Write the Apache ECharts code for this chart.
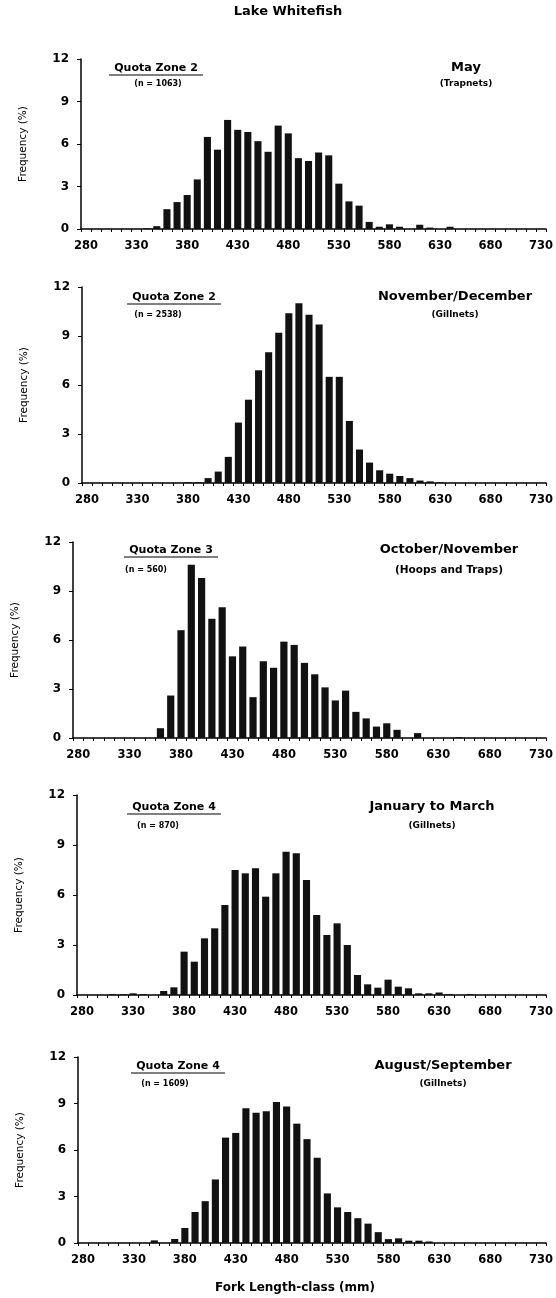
<!DOCTYPE html>
<html>
<head>
<meta charset="utf-8">
<title>Lake Whitefish</title>
<script src="https://cdn.jsdelivr.net/npm/echarts@6/dist/echarts.min.js"></script>
<style>
  html, body { margin: 0; padding: 0; background: #ffffff; }
  #chart { width: 556px; height: 1298px; }
</style>
</head>
<body>
<div id="chart"></div>
<script>
// Fork length classes (mm), 10 mm bins
const lengthClasses = [280, 290, 300, 310, 320, 330, 340, 350, 360, 370,
  380, 390, 400, 410, 420, 430, 440, 450, 460, 470,
  480, 490, 500, 510, 520, 530, 540, 550, 560, 570,
  580, 590, 600, 610, 620, 630, 640, 650, 660, 670,
  680, 690, 700, 710, 720, 730];

// Frequency (%) per length class
const zone2May = [0, 0, 0, 0, 0, 0, 0.05, 0.2, 1.4, 1.9,
  2.4, 3.5, 6.5, 5.6, 7.7, 7.0, 6.85, 6.2, 5.45, 7.3,
  6.75, 5.0, 4.8, 5.4, 5.2, 3.2, 1.95, 1.65, 0.5, 0.16,
  0.33, 0.16, 0, 0.3, 0.1, 0, 0.16, 0, 0, 0,
  0, 0, 0, 0, 0, 0];
const zone2NovDec = [0, 0, 0, 0, 0, 0, 0, 0, 0, 0,
  0.05, 0.05, 0.3, 0.7, 1.6, 3.7, 5.1, 6.9, 8.0, 9.2,
  10.4, 11.0, 10.3, 9.7, 6.5, 6.5, 3.8, 2.05, 1.25, 0.78,
  0.57, 0.43, 0.3, 0.15, 0.1, 0.05, 0, 0, 0, 0,
  0, 0, 0, 0, 0, 0];
const zone3OctNov = [0, 0, 0, 0, 0, 0, 0, 0, 0.6, 2.6,
  6.6, 10.6, 9.8, 7.3, 8.0, 5.0, 5.6, 2.5, 4.7, 4.3,
  5.9, 5.7, 4.6, 3.9, 3.1, 2.3, 2.9, 1.6, 1.2, 0.7,
  0.9, 0.5, 0, 0.3, 0, 0, 0, 0.05, 0, 0,
  0, 0, 0, 0, 0, 0];
const zone4JanMar = [0, 0, 0, 0.05, 0.05, 0.1, 0.05, 0, 0.24, 0.46,
  2.6, 2.0, 3.4, 4.0, 5.4, 7.5, 7.3, 7.6, 5.9, 7.3,
  8.6, 8.5, 6.9, 4.8, 3.6, 4.3, 3.0, 1.2, 0.64, 0.44,
  0.92, 0.5, 0.4, 0.1, 0.1, 0.15, 0.05, 0, 0.05, 0,
  0, 0, 0, 0, 0, 0];
const zone4AugSep = [0, 0, 0, 0, 0, 0, 0, 0.17, 0, 0.26,
  0.97, 2.0, 2.7, 4.1, 6.8, 7.1, 8.7, 8.4, 8.5, 9.1,
  8.8, 7.7, 6.7, 5.5, 3.2, 2.3, 2.0, 1.6, 1.25, 0.7,
  0.25, 0.3, 0.15, 0.15, 0.1, 0, 0, 0, 0, 0,
  0, 0, 0, 0, 0, 0];

const yTicks = [0, 3, 6, 9, 12];

// Panel captions
const zoneLabels = ['Quota Zone 2', 'Quota Zone 2', 'Quota Zone 3', 'Quota Zone 4', 'Quota Zone 4'];
const sampleSizes = ['(n = 1063)', '(n = 2538)', '(n = 560)', '(n = 870)', '(n = 1609)'];
const periods = ['May', 'November/December', 'October/November', 'January to March', 'August/September'];
const gears = ['(Trapnets)', '(Gillnets)', '(Hoops and Traps)', '(Gillnets)', '(Gillnets)'];

const panelSeries = [zone2May, zone2NovDec, zone3OctNov, zone4JanMar, zone4AugSep];

// Panel frames: plot area in pixels
const frames = [
  { left: 81, top: 59, height: 170 },
  { left: 82, top: 287, height: 196 },
  { left: 73, top: 542, height: 196 },
  { left: 77, top: 795, height: 200 },
  { left: 78, top: 1057, height: 186 }
];
const plotRight = 553;

// Caption anchors per panel (zone label, sample size, period, gear)
const captionPos = [
  { zx: 156, zy: 68, nx: 158, ny: 84, px: 466, py: 68, gy: 84, gs: 9 },
  { zx: 174, zy: 297, nx: 158, ny: 315, px: 455, py: 297, gy: 315, gs: 9 },
  { zx: 171, zy: 550, nx: 146, ny: 570, px: 449, py: 550, gy: 570, gs: 10.5 },
  { zx: 174, zy: 807, nx: 158, ny: 826, px: 432, py: 807, gy: 826, gs: 9 },
  { zx: 178, zy: 1066, nx: 165, ny: 1084, px: 443, py: 1066, gy: 1084, gs: 9 }
];

const FONT = '"DejaVu Sans", Verdana, sans-serif';

const grids = [], xAxes = [], yAxes = [], series = [], graphics = [];

frames.forEach(function (f, i) {
  grids.push({ left: f.left, top: f.top, width: plotRight - f.left, height: f.height });
  xAxes.push({
    type: 'category',
    gridIndex: i,
    data: lengthClasses,
    boundaryGap: true,
    axisLine: { lineStyle: { color: '#000', width: 1.5 } },
    axisTick: { show: true, interval: 0, length: 3, lineStyle: { color: '#000', width: 1 } },
    axisLabel: {
      interval: 4, color: '#000', fontFamily: FONT, fontWeight: 'bold', fontSize: 11.5, margin: 11
    },
    splitLine: { show: false }
  });
  yAxes.push({
    type: 'value',
    gridIndex: i,
    min: yTicks[0],
    max: yTicks[yTicks.length - 1],
    interval: 3,
    name: 'Frequency (%)',
    nameLocation: 'middle',
    nameGap: 52,
    nameRotate: 90,
    nameTextStyle: { color: '#000', fontFamily: FONT, fontSize: 10.5 },
    axisLine: { show: true, lineStyle: { color: '#000', width: 1.5 } },
    axisTick: { show: true, length: 4, lineStyle: { color: '#000', width: 1 } },
    axisLabel: { color: '#000', fontFamily: FONT, fontWeight: 'bold', fontSize: 12, margin: 12 },
    splitLine: { show: false }
  });
  series.push({
    type: 'bar',
    xAxisIndex: i,
    yAxisIndex: i,
    data: panelSeries[i],
    barCategoryGap: '30%',
    itemStyle: { color: '#111' },
    silent: true
  });

  const c = captionPos[i];
  graphics.push({
    type: 'text', x: c.zx, y: c.zy,
    style: { text: zoneLabels[i], fill: '#000', font: 'bold 11px ' + FONT, textAlign: 'center', textVerticalAlign: 'middle' }
  });
  graphics.push({
    type: 'line',
    shape: { x1: c.zx - 47, y1: c.zy + 7, x2: c.zx + 47, y2: c.zy + 7 },
    style: { stroke: '#000', lineWidth: 1 }
  });
  graphics.push({
    type: 'text', x: c.nx, y: c.ny,
    style: { text: sampleSizes[i], fill: '#000', font: 'bold 8px ' + FONT, textAlign: 'center', textVerticalAlign: 'middle' }
  });
  graphics.push({
    type: 'text', x: c.px, y: c.py,
    style: { text: periods[i], fill: '#000', font: 'bold 13px ' + FONT, textAlign: 'center', textVerticalAlign: 'middle' }
  });
  graphics.push({
    type: 'text', x: c.px, y: c.gy,
    style: { text: gears[i], fill: '#000', font: 'bold ' + c.gs + 'px ' + FONT, textAlign: 'center', textVerticalAlign: 'middle' }
  });
});

// Figure title and shared x-axis title
graphics.push({
  type: 'text', x: 288, y: 12,
  style: { text: 'Lake Whitefish', fill: '#000', font: 'bold 13px ' + FONT, textAlign: 'center', textVerticalAlign: 'middle' }
});
graphics.push({
  type: 'text', x: 295, y: 1288,
  style: { text: 'Fork Length-class (mm)', fill: '#000', font: 'bold 12px ' + FONT, textAlign: 'center', textVerticalAlign: 'middle' }
});

const chart = echarts.init(document.getElementById('chart'), null, { renderer: 'canvas' });
chart.setOption({
  animation: false,
  backgroundColor: '#ffffff',
  grid: grids,
  xAxis: xAxes,
  yAxis: yAxes,
  series: series,
  graphic: graphics
});
</script>
</body>
</html>
